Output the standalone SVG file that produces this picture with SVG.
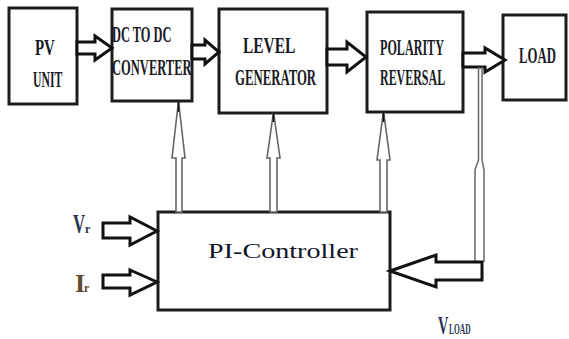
<svg xmlns="http://www.w3.org/2000/svg" width="569" height="339" viewBox="0 0 569 339">
  <style>
    .box { fill: #ffffff; stroke: #1c1c1c; stroke-width: 3; }
    .lbl { font-family: "Liberation Serif", "Times New Roman", serif; font-size: 23px; font-weight: bold; fill: #1a1a24; }
    .big { font-family: "Liberation Serif", "Times New Roman", serif; font-size: 22px; fill: #10142a; }
    .sig { font-family: "Liberation Serif", "Times New Roman", serif; font-weight: bold; fill: #2b3450; }
    .flow { fill: #ffffff; stroke: #111111; stroke-width: 3; stroke-linejoin: miter; }
    .ctrl { fill: #ffffff; stroke: #666666; stroke-width: 1.6; stroke-linejoin: miter; }
    .fb { fill: none; stroke: #707070; stroke-width: 1.6; }
  </style>

  <rect width="569" height="339" fill="#ffffff"/>

  <!-- power path blocks (labels set in a condensed serif) -->
  <g id="pv-unit">
    <rect class="box" x="9" y="8" width="68" height="96"/>
    <text class="lbl" transform="translate(35,55) scale(0.65,1)">PV</text>
    <text class="lbl" transform="translate(33,87) scale(0.51,1)">UNIT</text>
  </g>

  <g id="dc-converter">
    <rect class="box" x="112" y="9" width="80" height="92"/>
    <text class="lbl" transform="translate(112,42) scale(0.54,1)">DC TO DC</text>
    <text class="lbl" transform="translate(112,75) scale(0.545,1)">CONVERTER</text>
  </g>

  <g id="level-generator">
    <rect class="box" x="219" y="9" width="108" height="104"/>
    <text class="lbl" transform="translate(243,53) scale(0.67,1)">LEVEL</text>
    <text class="lbl" transform="translate(235,85) scale(0.555,1)">GENERATOR</text>
  </g>

  <g id="polarity-reversal">
    <rect class="box" x="367" y="12" width="96" height="100"/>
    <text class="lbl" transform="translate(380,55) scale(0.527,1)">POLARITY</text>
    <text class="lbl" transform="translate(380,85) scale(0.52,1)">REVERSAL</text>
  </g>

  <g id="load">
    <rect class="box" x="503" y="15" width="63" height="85"/>
    <text class="lbl" transform="translate(519,63) scale(0.555,1)">LOAD</text>
  </g>

  <!-- controller -->
  <g id="pi-controller">
    <rect class="box" x="158" y="212" width="232" height="98"/>
    <text class="big" x="208" y="258" textLength="150" lengthAdjust="spacingAndGlyphs">PI-Controller</text>
  </g>

  <!-- connectors -->
  <g id="connectors">
    <!-- hollow power-flow arrows -->
    <polygon class="flow" points="77,42 95,42 95,36 112,48 95,60 95,54 77,54"/>
    <polygon class="flow" points="192,45 205,45 205,40 219,52 205,64 205,59 192,59"/>
    <polygon class="flow" points="327,49 347,49 347,42 366,57 347,72 347,65 327,65"/>
    <polygon class="flow" points="463,53 485,53 485,48 505,60 485,72 485,67 463,67"/>

    <!-- control signals from the PI controller up to the blocks -->
    <polygon class="ctrl" points="176,212 176,158 172,158 178.5,101 185,158 182,158 182,212"/>
    <polygon class="ctrl" points="270,212 270,158 267,158 273.5,112 280,158 277,158 277,212"/>
    <polygon class="ctrl" points="380,212 380,160 377,160 383.5,111 390,160 387,160 387,212"/>
    <line x1="178.5" y1="101" x2="178.5" y2="112" stroke="#111" stroke-width="1.6"/>
    <line x1="273.5" y1="112" x2="273.5" y2="122" stroke="#111" stroke-width="1.6"/>
    <line x1="383.5" y1="111" x2="383.5" y2="122" stroke="#111" stroke-width="1.6"/>

    <!-- load voltage feedback -->
    <path class="fb" d="M478.5,67 V160 L475,170 V262"/>
    <path class="fb" d="M482,67 V160 L484,170 V262"/>
    <polygon class="flow" points="390,271 436,255 436,262 482,262 482,280 436,280 436,287"/>

    <!-- reference inputs -->
    <polygon class="flow" points="103,223 130,223 130,217 157,231 130,245 130,238 103,238"/>
    <polygon class="flow" points="103,275 130,275 130,270 157,282 130,295 130,288 103,288"/>
  </g>

  <!-- signal names -->
  <g id="signal-labels">
    <text class="sig" font-size="28" transform="translate(73,233) scale(0.6,1)">V</text>
    <text class="sig" font-size="12" x="85" y="233">r</text>
    <text class="sig" font-size="26" style="fill:#5e4a2e" x="75" y="292">I</text>
    <text class="sig" font-size="12" style="fill:#5e4a2e" x="84" y="292">r</text>
    <text class="sig" font-size="26" transform="translate(438,334) scale(0.55,1)">V</text>
    <text class="sig" font-size="15" transform="translate(449,334) scale(0.5,1)">LOAD</text>
  </g>
</svg>
